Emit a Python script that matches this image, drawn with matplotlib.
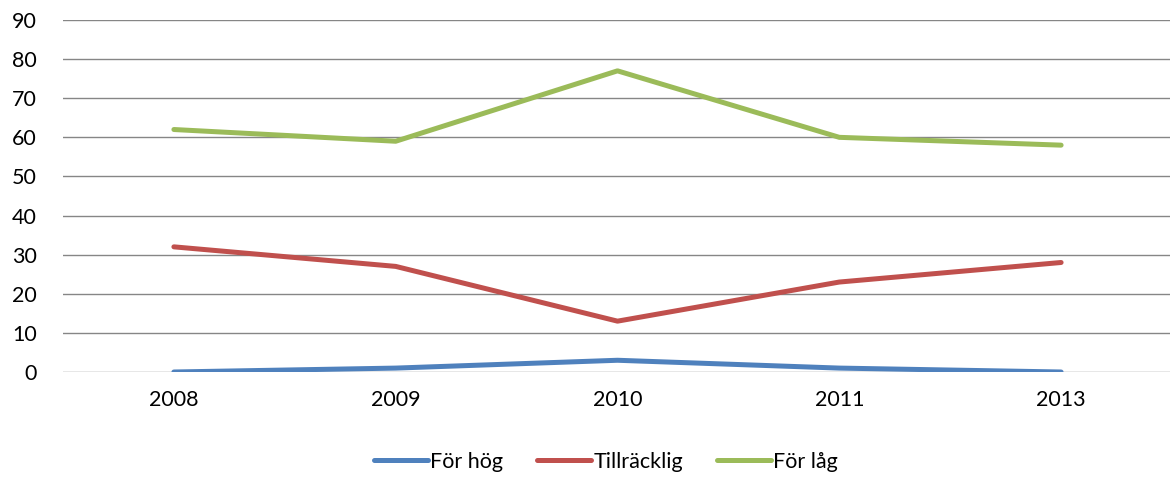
import matplotlib.pyplot as plt

# Data
years = ['2008', '2009', '2010', '2011', '2013']
for_hog = [0, 1, 3, 1, 0]
tillracklig = [32, 27, 13, 23, 28]
for_lag = [62, 59, 77, 60, 58]

plt.rcParams['font.family'] = ['Lato', 'DejaVu Sans']

fig = plt.figure(figsize=(11.7, 4.82), dpi=100)
ax = fig.add_axes([63 / 1170, 1 - 372 / 482, (1172 - 63) / 1170, (372 - 20) / 482])

x = range(len(years))
ax.plot(x, for_hog, color='#4F81BD', lw=3.6, solid_capstyle='round', label='För hög')
ax.plot(x, tillracklig, color='#C0504D', lw=3.6, solid_capstyle='round', label='Tillräcklig')
ax.plot(x, for_lag, color='#9BBB59', lw=3.6, solid_capstyle='round', label='För låg')

ax.set_xlim(-0.5, len(years) - 0.5)
ax.set_ylim(0, 90)
ax.set_yticks(range(0, 91, 10))
ax.set_xticks(list(x))
ax.set_xticklabels(years)
ax.grid(axis='y', color='#868686', lw=1)
ax.set_axisbelow(True)
for s in ax.spines.values():
    s.set_visible(False)
ax.tick_params(axis='both', length=0, labelsize=15.5, colors='black')
ax.tick_params(axis='x', pad=13)
ax.tick_params(axis='y', pad=19)

ax.legend(loc='center', bbox_to_anchor=(606 / 1170, 1 - 462 / 482), bbox_transform=fig.transFigure,
          ncol=3, frameon=False, fontsize=15.5, handlelength=2.5, handletextpad=0.1,
          columnspacing=1.6)

fig.savefig('out.png', dpi=100)
